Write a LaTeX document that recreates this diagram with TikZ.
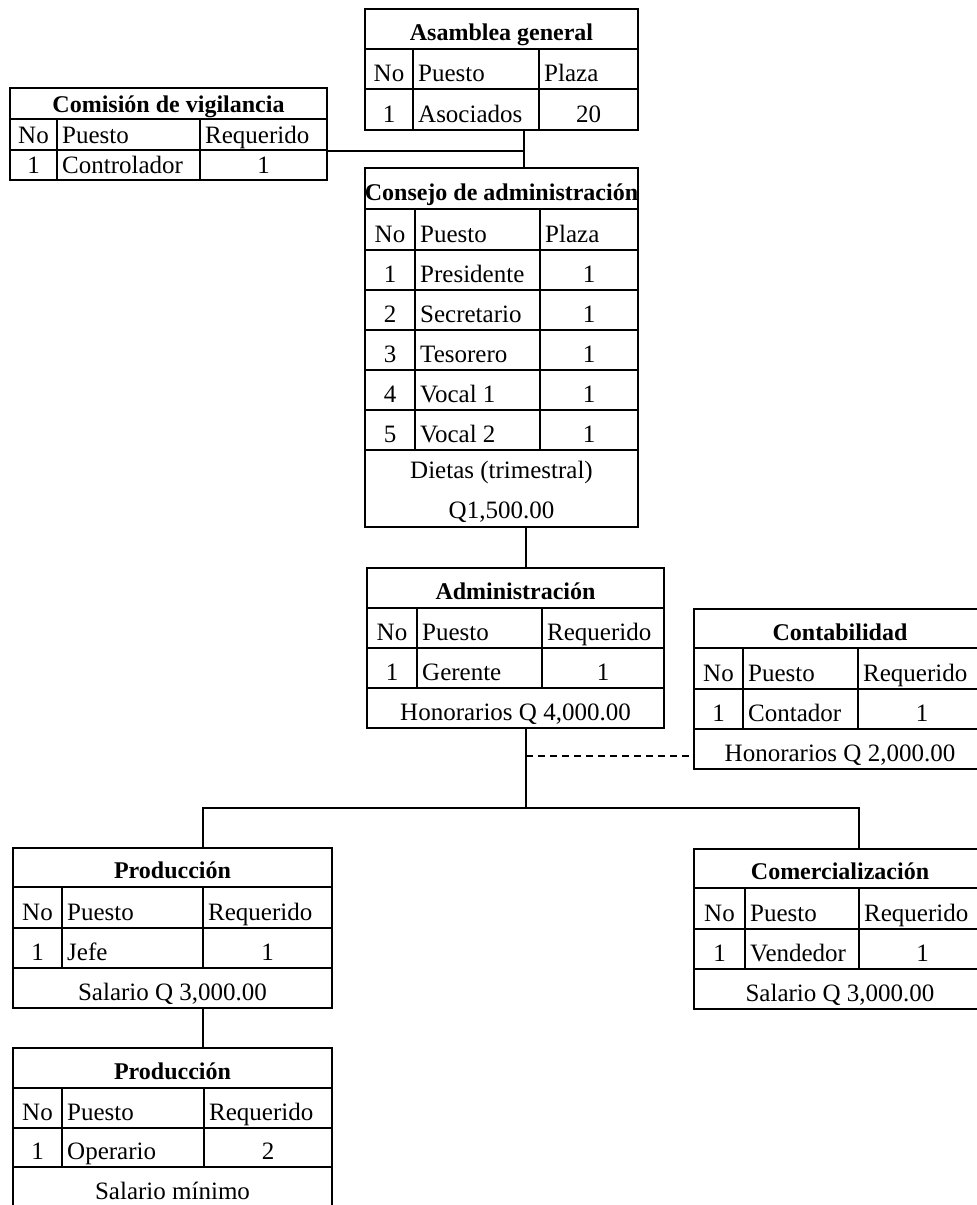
\documentclass[tikz,border=0pt]{standalone}
\usepackage{fontspec}
\setmainfont{Liberation Serif}

\begin{document}
\begin{tikzpicture}[x=1pt,y=-1pt,
  marco/.style={draw,line width=1.5pt,inner sep=0pt,outer sep=0pt,anchor=north west},
  raya/.style={line width=1.5pt},
  titulo/.style={anchor=base,inner sep=0pt,font=\fontsize{24}{28}\selectfont\bfseries},
  cen/.style={anchor=base,inner sep=0pt,font=\fontsize{25}{30}\selectfont},
  izq/.style={anchor=base west,inner sep=0pt,font=\fontsize{25}{30}\selectfont}]
\useasboundingbox (0,0) rectangle (977,1205);

\node[marco,minimum width=273pt,minimum height=121pt] (asamblea) at (365,9) {};
\draw[raya] (365,49) -- (638,49);
\draw[raya] (365,89) -- (638,89);
\draw[raya] (413,49) -- (413,130);
\draw[raya] (539,49) -- (539,130);
\node[titulo] (asa-t) at (501.5,40) {Asamblea general};
\node[cen] (asa-no) at (389,81) {No};
\node[izq] (asa-pu) at (418,81) {Puesto};
\node[izq] (asa-pl) at (544,81) {Plaza};
\node[cen] (asa-n1) at (389,122) {1};
\node[izq] (asa-p1) at (418,122) {Asociados};
\node[cen] (asa-v1) at (588.5,122) {20};

\node[marco,minimum width=317pt,minimum height=92pt] (comision) at (10,88) {};
\draw[raya] (10,119) -- (327,119);
\draw[raya] (10,150) -- (327,150);
\draw[raya] (57,119) -- (57,180);
\draw[raya] (200,119) -- (200,180);
\node[titulo] (com-t) at (168.5,112) {Comisión de vigilancia};
\node[cen] (com-no) at (33.5,143) {No};
\node[izq] (com-pu) at (62,143) {Puesto};
\node[izq] (com-re) at (205,143) {Requerido};
\node[cen] (com-n1) at (33.5,173) {1};
\node[izq] (com-p1) at (62,173) {Controlador};
\node[cen] (com-v1) at (263.5,173) {1};

\node[marco,minimum width=273pt,minimum height=359pt] (consejo) at (365,168) {};
\draw[raya] (365,209) -- (638,209);
\draw[raya] (365,250) -- (638,250);
\draw[raya] (365,290) -- (638,290);
\draw[raya] (365,330) -- (638,330);
\draw[raya] (365,370) -- (638,370);
\draw[raya] (365,410) -- (638,410);
\draw[raya] (365,450) -- (638,450);
\draw[raya] (415,209) -- (415,450);
\draw[raya] (540,209) -- (540,450);
\node[titulo] (con-t) at (501.5,200) {Consejo de administración};
\node[cen] (con-no) at (390,242) {No};
\node[izq] (con-pu) at (420,242) {Puesto};
\node[izq] (con-pl) at (545,242) {Plaza};
\node[cen] (con-n1) at (390,282) {1};
\node[izq] (con-p1) at (420,282) {Presidente};
\node[cen] (con-v1) at (589,282) {1};
\node[cen] (con-n2) at (390,322) {2};
\node[izq] (con-p2) at (420,322) {Secretario};
\node[cen] (con-v2) at (589,322) {1};
\node[cen] (con-n3) at (390,362) {3};
\node[izq] (con-p3) at (420,362) {Tesorero};
\node[cen] (con-v3) at (589,362) {1};
\node[cen] (con-n4) at (390,402) {4};
\node[izq] (con-p4) at (420,402) {Vocal 1};
\node[cen] (con-v4) at (589,402) {1};
\node[cen] (con-n5) at (390,442) {5};
\node[izq] (con-p5) at (420,442) {Vocal 2};
\node[cen] (con-v5) at (589,442) {1};
\node[cen] (con-d1) at (501.5,478) {Dietas (trimestral)};
\node[cen] (con-d2) at (501.5,518) {Q1,500.00};

\node[marco,minimum width=297pt,minimum height=160pt] (admin) at (367,568) {};
\draw[raya] (367,608) -- (664,608);
\draw[raya] (367,648) -- (664,648);
\draw[raya] (367,688) -- (664,688);
\draw[raya] (417,608) -- (417,688);
\draw[raya] (542,608) -- (542,688);
\node[titulo] (adm-t) at (515.5,599) {Administración};
\node[cen] (adm-no) at (392,640) {No};
\node[izq] (adm-pu) at (422,640) {Puesto};
\node[izq] (adm-re) at (547,640) {Requerido};
\node[cen] (adm-n1) at (392,680) {1};
\node[izq] (adm-p1) at (422,680) {Gerente};
\node[cen] (adm-v1) at (603,680) {1};
\node[cen] (adm-h) at (515.5,720) {Honorarios Q 4,000.00};

\node[marco,minimum width=292pt,minimum height=160pt] (contab) at (694,609) {};
\draw[raya] (694,648) -- (986,648);
\draw[raya] (694,689) -- (986,689);
\draw[raya] (694,729) -- (986,729);
\draw[raya] (743,648) -- (743,729);
\draw[raya] (858,648) -- (858,729);
\node[titulo] (cnt-t) at (840,640) {Contabilidad};
\node[cen] (cnt-no) at (718.5,681) {No};
\node[izq] (cnt-pu) at (748,681) {Puesto};
\node[izq] (cnt-re) at (863,681) {Requerido};
\node[cen] (cnt-n1) at (718.5,721) {1};
\node[izq] (cnt-p1) at (748,721) {Contador};
\node[cen] (cnt-v1) at (922,721) {1};
\node[cen] (cnt-h) at (840,761) {Honorarios Q 2,000.00};

\node[marco,minimum width=319pt,minimum height=160pt] (prodjefe) at (13,848) {};
\draw[raya] (13,887) -- (332,887);
\draw[raya] (13,928) -- (332,928);
\draw[raya] (13,968) -- (332,968);
\draw[raya] (62,887) -- (62,968);
\draw[raya] (203,887) -- (203,968);
\node[titulo] (pj-t) at (172.5,878) {Producción};
\node[cen] (pj-no) at (37.5,920) {No};
\node[izq] (pj-pu) at (67,920) {Puesto};
\node[izq] (pj-re) at (208,920) {Requerido};
\node[cen] (pj-n1) at (37.5,960) {1};
\node[izq] (pj-p1) at (67,960) {Jefe};
\node[cen] (pj-v1) at (267.5,960) {1};
\node[cen] (pj-s) at (172.5,1000) {Salario Q 3,000.00};

\node[marco,minimum width=292pt,minimum height=160pt] (comercial) at (694,849) {};
\draw[raya] (694,888) -- (986,888);
\draw[raya] (694,929) -- (986,929);
\draw[raya] (694,969) -- (986,969);
\draw[raya] (745,888) -- (745,969);
\draw[raya] (859,888) -- (859,969);
\node[titulo] (cme-t) at (840,879) {Comercialización};
\node[cen] (cme-no) at (719.5,921) {No};
\node[izq] (cme-pu) at (750,921) {Puesto};
\node[izq] (cme-re) at (864,921) {Requerido};
\node[cen] (cme-n1) at (719.5,961) {1};
\node[izq] (cme-p1) at (750,961) {Vendedor};
\node[cen] (cme-v1) at (922.5,961) {1};
\node[cen] (cme-s) at (840,1001) {Salario Q 3,000.00};

\node[marco,minimum width=319pt,minimum height=165pt] (prodoper) at (13,1048) {};
\draw[raya] (13,1088) -- (332,1088);
\draw[raya] (13,1128) -- (332,1128);
\draw[raya] (13,1167) -- (332,1167);
\draw[raya] (62,1088) -- (62,1167);
\draw[raya] (204,1088) -- (204,1167);
\node[titulo] (po-t) at (172.5,1079) {Producción};
\node[cen] (po-no) at (37.5,1120) {No};
\node[izq] (po-pu) at (67,1120) {Puesto};
\node[izq] (po-re) at (209,1120) {Requerido};
\node[cen] (po-n1) at (37.5,1159) {1};
\node[izq] (po-p1) at (67,1159) {Operario};
\node[cen] (po-v1) at (268,1159) {2};
\node[cen] (po-s) at (172.5,1199) {Salario mínimo};

\coordinate (union) at (524,151);
\coordinate (guion) at (526,756);
\coordinate (rama) at (526,808);
\coordinate (ramaizq) at (203,808);
\coordinate (ramader) at (859,808);
\draw[raya] (asamblea.south -| union) -- (consejo.north -| union);
\draw[raya] (comision.east |- union) -- (union);
\draw[raya] (consejo.south -| rama) -- (admin.north -| rama);
\draw[raya] (admin.south -| rama) -- (rama);
\draw[line width=1.2pt,dash pattern=on 7pt off 5pt] (guion) -- (contab.west |- guion);
\draw[raya] (prodjefe.north -| ramaizq) -- (ramaizq) -- (ramader) -- (comercial.north -| ramader);
\draw[raya] (prodjefe.south -| ramaizq) -- (prodoper.north -| ramaizq);
\end{tikzpicture}
\end{document}
